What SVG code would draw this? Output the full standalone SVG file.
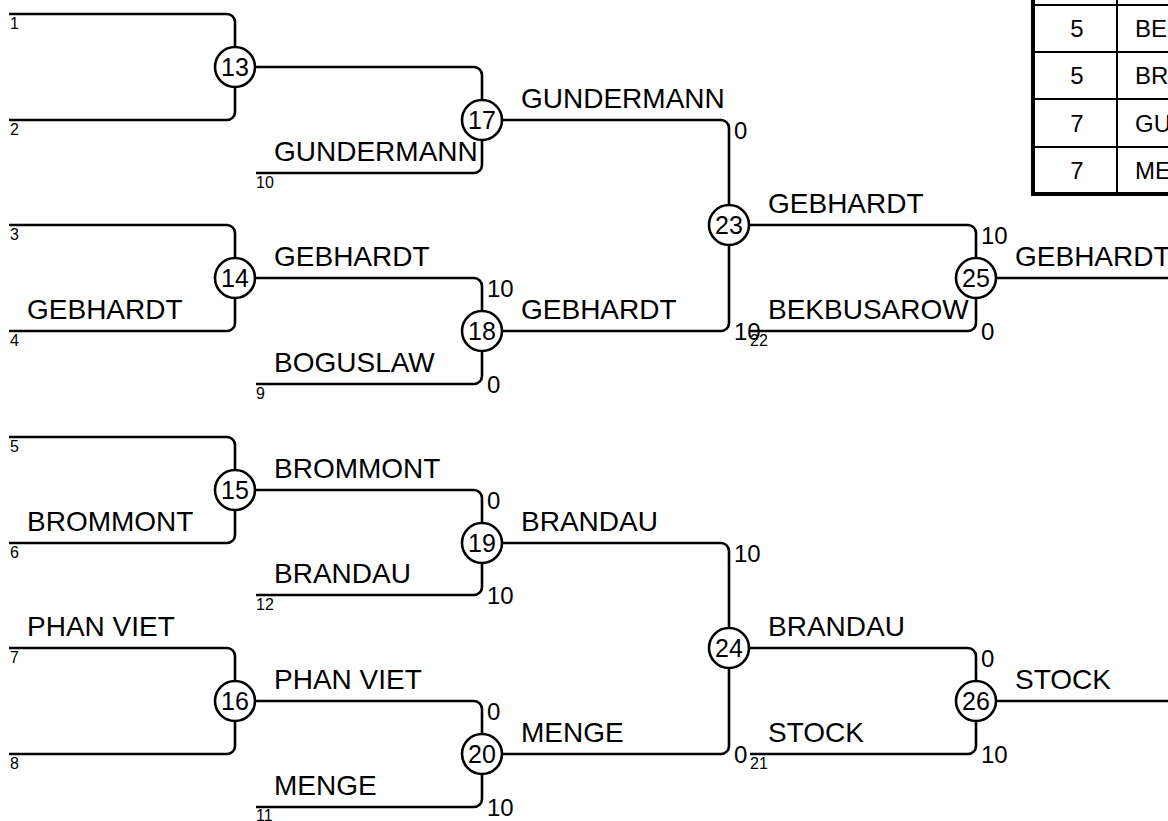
<svg xmlns="http://www.w3.org/2000/svg" width="1168" height="821" viewBox="0 0 1168 821">
<style>
.ln{fill:none;stroke:#000;stroke-width:2.6;stroke-linejoin:round}
.nd circle{fill:#fff;stroke:#000;stroke-width:2.6}
.nd text{font-family:"Liberation Sans",Arial,sans-serif;font-size:25px;text-anchor:middle;fill:#000}
.nm{font-family:"Liberation Sans",Arial,sans-serif;font-size:28px;fill:#000}
.sc{font-family:"Liberation Sans",Arial,sans-serif;font-size:24px;fill:#000}
.sd{font-family:"Liberation Sans",Arial,sans-serif;font-size:16px;fill:#000}
.tb{font-family:"Liberation Sans",Arial,sans-serif;font-size:24px;fill:#000}
.tl{stroke:#000;stroke-width:2;fill:none}
.tk{stroke:#000;stroke-width:4;fill:none}
</style>
<rect width="1168" height="821" fill="#fff"/>
<g id="connectors" class="ln">
<path d="M9,14 H227 A8,8 0 0 1 235,22 V47"/>
<path d="M9,120 H227 A8,8 0 0 0 235,112 V87"/>
<path d="M255,67 H474 A8,8 0 0 1 482,75 V100"/>
<path d="M256,173 H474 A8,8 0 0 0 482,165 V140"/>
<path d="M502,120 H721 A8,8 0 0 1 729,128 V205"/>
<path d="M9,225 H227 A8,8 0 0 1 235,233 V258"/>
<path d="M9,331 H227 A8,8 0 0 0 235,323 V298"/>
<path d="M255,278 H474 A8,8 0 0 1 482,286 V311"/>
<path d="M256,384 H474 A8,8 0 0 0 482,376 V351"/>
<path d="M502,331 H721 A8,8 0 0 0 729,323 V245"/>
<path d="M749,225 H968 A8,8 0 0 1 976,233 V258"/>
<path d="M750,331 H968 A8,8 0 0 0 976,323 V298"/>
<path d="M996,278 H1168"/>
<path d="M9,437 H227 A8,8 0 0 1 235,445 V470"/>
<path d="M9,543 H227 A8,8 0 0 0 235,535 V510"/>
<path d="M255,490 H474 A8,8 0 0 1 482,498 V523"/>
<path d="M256,595 H474 A8,8 0 0 0 482,587 V563"/>
<path d="M502,543 H721 A8,8 0 0 1 729,551 V628"/>
<path d="M9,648 H227 A8,8 0 0 1 235,656 V681"/>
<path d="M9,754 H227 A8,8 0 0 0 235,746 V721"/>
<path d="M255,701 H474 A8,8 0 0 1 482,709 V734"/>
<path d="M256,807 H474 A8,8 0 0 0 482,799 V774"/>
<path d="M502,754 H721 A8,8 0 0 0 729,746 V668"/>
<path d="M749,648 H968 A8,8 0 0 1 976,656 V681"/>
<path d="M750,754 H968 A8,8 0 0 0 976,746 V721"/>
<path d="M996,701 H1168"/>
</g>
<g id="n13" class="nd"><circle cx="235" cy="67" r="20"/><text x="235" y="76">13</text></g>
<g id="n17" class="nd"><circle cx="482" cy="120" r="20"/><text x="482" y="129">17</text></g>
<g id="n14" class="nd"><circle cx="235" cy="278" r="20"/><text x="235" y="287">14</text></g>
<g id="n18" class="nd"><circle cx="482" cy="331" r="20"/><text x="482" y="340">18</text></g>
<g id="n23" class="nd"><circle cx="729" cy="225" r="20"/><text x="729" y="234">23</text></g>
<g id="n25" class="nd"><circle cx="976" cy="278" r="20"/><text x="976" y="287">25</text></g>
<g id="n15" class="nd"><circle cx="235" cy="490" r="20"/><text x="235" y="499">15</text></g>
<g id="n19" class="nd"><circle cx="482" cy="543" r="20"/><text x="482" y="552">19</text></g>
<g id="n16" class="nd"><circle cx="235" cy="701" r="20"/><text x="235" y="710">16</text></g>
<g id="n20" class="nd"><circle cx="482" cy="754" r="20"/><text x="482" y="763">20</text></g>
<g id="n24" class="nd"><circle cx="729" cy="648" r="20"/><text x="729" y="657">24</text></g>
<g id="n26" class="nd"><circle cx="976" cy="701" r="20"/><text x="976" y="710">26</text></g>
<g id="names" class="nm">
<text x="27" y="319">GEBHARDT</text>
<text x="27" y="531">BROMMONT</text>
<text x="27" y="636">PHAN VIET</text>
<text x="274" y="161">GUNDERMANN</text>
<text x="274" y="266">GEBHARDT</text>
<text x="274" y="372">BOGUSLAW</text>
<text x="274" y="478">BROMMONT</text>
<text x="274" y="583">BRANDAU</text>
<text x="274" y="689">PHAN VIET</text>
<text x="274" y="795">MENGE</text>
<text x="521" y="108">GUNDERMANN</text>
<text x="521" y="319">GEBHARDT</text>
<text x="521" y="531">BRANDAU</text>
<text x="521" y="742">MENGE</text>
<text x="768" y="213">GEBHARDT</text>
<text x="768" y="319">BEKBUSAROW</text>
<text x="768" y="636">BRANDAU</text>
<text x="768" y="742">STOCK</text>
<text x="1015" y="266">GEBHARDT</text>
<text x="1015" y="689">STOCK</text>
</g>
<g id="scores" class="sc">
<text x="487" y="297">10</text><text x="487" y="393">0</text>
<text x="734" y="139">0</text><text x="734" y="340">10</text>
<text x="981" y="244">10</text><text x="981" y="340">0</text>
<text x="487" y="509">0</text><text x="487" y="604">10</text>
<text x="487" y="720">0</text><text x="487" y="816">10</text>
<text x="734" y="562">10</text><text x="734" y="763">0</text>
<text x="981" y="667">0</text><text x="981" y="763">10</text>
</g>
<g id="seeds" class="sd">
<text x="10" y="29">1</text>
<text x="10" y="135">2</text>
<text x="256" y="188">10</text>
<text x="10" y="240">3</text>
<text x="10" y="346">4</text>
<text x="256" y="399">9</text>
<text x="10" y="452">5</text>
<text x="10" y="558">6</text>
<text x="256" y="610">12</text>
<text x="10" y="663">7</text>
<text x="10" y="769">8</text>
<text x="256" y="821">11</text>
<text x="750" y="346">22</text>
<text x="750" y="769">21</text>
</g>
<g id="table">
<rect x="1033" y="-10" width="200" height="204" fill="#fff"/>
<path class="tl" d="M1033,5 H1168 M1033,52 H1168 M1033,99 H1168 M1033,147 H1168 M1117,-2 V194"/>
<path class="tk" d="M1033,-2 V196 M1031,194 H1168"/>
<g class="tb">
<text x="1077" y="37" text-anchor="middle">5</text><text x="1135" y="37">BE</text>
<text x="1077" y="84" text-anchor="middle">5</text><text x="1135" y="84">BR</text>
<text x="1077" y="132" text-anchor="middle">7</text><text x="1135" y="132">GU</text>
<text x="1077" y="179" text-anchor="middle">7</text><text x="1135" y="179">ME</text>
</g>
</g>
</svg>
